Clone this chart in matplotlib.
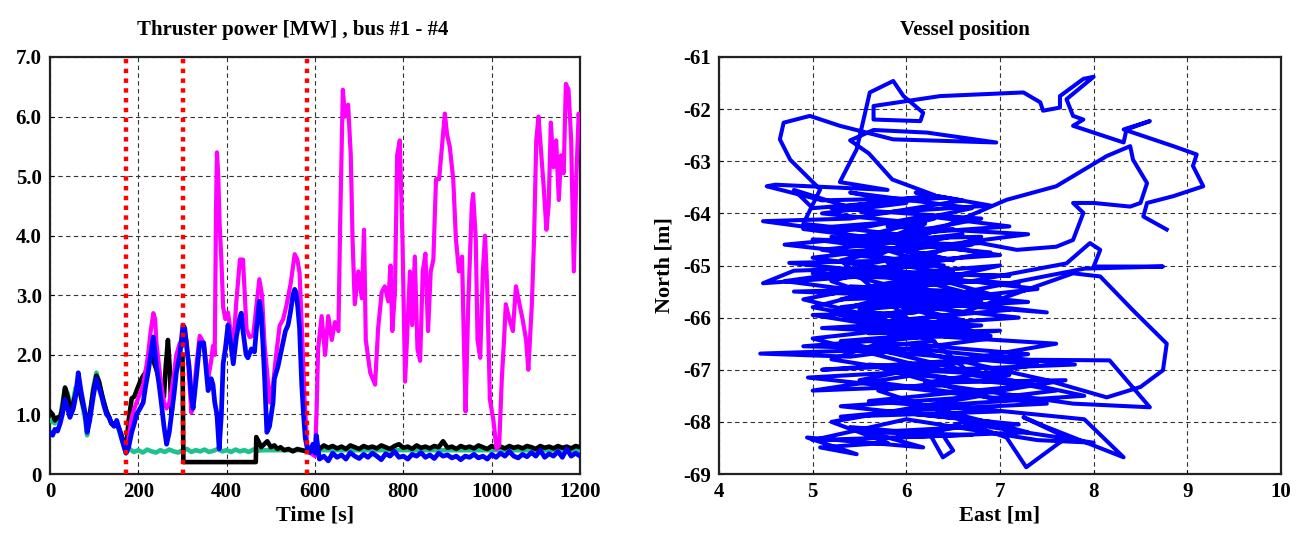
import matplotlib
matplotlib.use("Agg")
import matplotlib.pyplot as plt

plt.rcParams['font.family'] = ['Liberation Serif', 'DejaVu Serif']
plt.rcParams['font.weight'] = 'bold'
plt.rcParams['axes.unicode_minus'] = False

# ---------------- Thruster power data (time [s], power [MW]) ----------------
blue_t = [0, 6, 11, 17, 23, 28, 34, 40, 45, 53, 58, 64, 70, 75, 80, 84, 90, 98, 105, 111,
          117, 122, 128, 134, 139, 145, 151, 157, 162, 168, 172, 178, 185, 191, 196, 204, 211, 216, 222, 228,
          234, 241, 247, 252, 258, 264, 270, 275, 281, 286, 294, 301, 305, 310, 315, 320, 324, 331, 339, 348,
          358, 365, 369, 373, 378, 383, 388, 392, 397, 403, 409, 415, 422, 429, 433, 437, 444, 448, 456, 463,
          467, 474, 478, 482, 486, 491, 497, 505, 508, 516, 523, 527, 533, 539, 544, 550, 554, 557, 561, 565,
          570, 574, 578, 582, 588, 595, 600, 603, 610, 620, 630, 640, 650, 660, 670, 680, 690, 700, 710, 720,
          730, 740, 750, 760, 770, 780, 790, 800, 810, 820, 830, 840, 850, 860, 870, 880, 890, 900, 910, 920,
          930, 940, 950, 960, 970, 980, 990, 1000, 1010, 1020, 1030, 1040, 1050, 1060, 1070, 1080, 1090, 1100, 1110, 1120,
          1130, 1140, 1150, 1160, 1170, 1180, 1190, 1200]
blue_p = [0.70, 0.65, 0.75, 0.72, 0.85, 1.0, 1.25, 1.1, 0.95, 1.1, 1.3, 1.7, 1.4, 1.2, 1.0, 0.7, 0.9, 1.3, 1.6, 1.45,
          1.3, 1.15, 1.0, 0.95, 0.85, 0.8, 0.9, 0.75, 0.6, 0.45, 0.35, 0.45, 0.7, 0.85, 1.0, 1.1, 1.2, 1.45, 1.7, 2.0,
          2.3, 1.8, 1.5, 1.2, 0.8, 0.5, 0.7, 1.0, 1.35, 1.7, 2.0, 2.5, 2.45, 2.1, 1.8, 1.3, 1.1, 1.6, 2.2, 2.2,
          1.4, 1.6, 1.5, 1.2, 1.0, 0.42, 1.0, 1.85, 2.1, 2.5, 2.2, 1.85, 2.3, 2.6, 2.7, 2.4, 2.0, 1.95, 2.1, 2.05,
          2.4, 2.9, 2.7, 2.2, 1.6, 0.7, 0.8, 1.2, 1.6, 1.8, 2.05, 2.2, 2.4, 2.5, 2.7, 3.0, 3.1, 3.05, 2.8, 2.45,
          1.5, 1.0, 0.6, 0.45, 0.36, 0.5, 0.35, 0.65, 0.25, 0.3, 0.22, 0.35, 0.28, 0.32, 0.25, 0.36, 0.3, 0.26, 0.33, 0.28,
          0.35, 0.3, 0.24, 0.34, 0.3, 0.38, 0.28, 0.3, 0.25, 0.33, 0.3, 0.36, 0.28, 0.32, 0.26, 0.35, 0.3, 0.32, 0.27, 0.3,
          0.24, 0.3, 0.28, 0.33, 0.27, 0.3, 0.25, 0.33, 0.28, 0.35, 0.3, 0.38, 0.3, 0.27, 0.33, 0.29, 0.36, 0.3, 0.4, 0.28,
          0.34, 0.3, 0.38, 0.28, 0.42, 0.3, 0.35, 0.3]

black_t = [0, 6, 11, 17, 23, 28, 34, 40, 45, 53, 58, 64, 70, 75, 80, 84, 90, 98, 105, 111,
           117, 122, 128, 134, 139, 145, 151, 157, 162, 168, 172, 178, 185, 191, 196, 204, 211, 216, 222, 228,
           234, 241, 247, 252, 258, 262, 267, 271, 275, 281, 286, 294, 300, 302, 350, 400, 466, 467, 472, 478,
           485, 492, 500, 508, 515, 522, 530, 540, 550, 560, 570, 580, 590, 600, 610, 620, 630, 640, 650, 660,
           670, 680, 690, 700, 710, 720, 730, 740, 750, 760, 770, 780, 790, 800, 810, 820, 830, 840, 850, 860,
           870, 880, 890, 900, 910, 920, 930, 940, 950, 960, 970, 980, 990, 1000, 1010, 1020, 1030, 1040, 1050, 1060,
           1070, 1080, 1090, 1100, 1110, 1120, 1130, 1140, 1150, 1160, 1170, 1180, 1190, 1200]
black_p = [1.05, 1.0, 0.9, 0.95, 0.95, 1.1, 1.45, 1.3, 1.1, 1.2, 1.35, 1.5, 1.3, 1.15, 1.0, 0.8, 1.0, 1.4, 1.65, 1.55,
           1.35, 1.2, 1.05, 0.95, 0.85, 0.85, 0.85, 0.75, 0.65, 0.5, 0.4, 0.9, 1.27, 1.3, 1.4, 1.55, 1.65, 1.7, 1.85, 2.0,
           1.9, 1.75, 1.6, 1.4, 1.3, 1.8, 2.25, 1.8, 1.0, 1.5, 1.9, 1.9, 2.0, 0.2, 0.2, 0.2, 0.2, 0.62, 0.55, 0.45,
           0.5, 0.55, 0.45, 0.48, 0.42, 0.45, 0.4, 0.42, 0.38, 0.42, 0.4, 0.38, 0.42, 0.45, 0.42, 0.48, 0.44, 0.47, 0.43, 0.46,
           0.42, 0.48, 0.45, 0.42, 0.47, 0.44, 0.46, 0.43, 0.48, 0.45, 0.42, 0.47, 0.5, 0.44, 0.46, 0.42, 0.48, 0.44, 0.46, 0.43,
           0.47, 0.45, 0.55, 0.44, 0.46, 0.42, 0.47, 0.44, 0.46, 0.43, 0.48, 0.45, 0.42, 0.47, 0.44, 0.46, 0.43, 0.47, 0.44, 0.46,
           0.43, 0.47, 0.45, 0.42, 0.47, 0.44, 0.46, 0.43, 0.47, 0.44, 0.46, 0.43, 0.47, 0.45]

green_t = [0, 11, 23, 34, 40, 45, 53, 58, 64, 70, 75, 80, 84, 90, 98, 105, 111, 117, 128, 139,
           151, 162, 172, 180, 190, 200, 210, 220, 230, 240, 250, 260, 270, 280, 290, 300, 310, 320, 330, 340,
           350, 360, 370, 380, 390, 400, 410, 420, 430, 440, 450, 460, 470, 480, 500, 550, 600, 800, 1000, 1200]
green_p = [0.9, 0.85, 0.95, 1.45, 1.35, 1.15, 1.25, 1.45, 1.5, 1.3, 1.1, 0.9, 0.65, 0.95, 1.45, 1.7, 1.55, 1.35, 1.05, 0.85,
           0.85, 0.6, 0.35, 0.42, 0.37, 0.4, 0.36, 0.41, 0.38, 0.36, 0.4, 0.37, 0.41, 0.38, 0.36, 0.4, 0.42, 0.37, 0.4, 0.38,
           0.41, 0.37, 0.39, 0.42, 0.38, 0.4, 0.37, 0.41, 0.38, 0.4, 0.37, 0.41, 0.39, 0.4, 0.4, 0.4, 0.4, 0.4, 0.4, 0.4]

magenta_t = [172, 178, 185, 191, 196, 204, 211, 216, 222, 228, 234, 238, 241, 247, 252, 258, 264, 270, 275, 281,
             286, 294, 301, 305, 310, 315, 320, 324, 331, 339, 348, 358, 365, 369, 373, 376, 378, 381, 384, 388,
             392, 397, 403, 409, 415, 422, 430, 437, 441, 445, 452, 460, 467, 474, 480, 486, 493, 498, 505, 512,
             520, 528, 535, 545, 554, 560, 565, 570, 576, 582, 590, 600, 604, 607, 615, 623, 630, 638, 645, 653,
             657, 663, 668, 675, 681, 685, 690, 698, 706, 711, 715, 725, 736, 743, 751, 758, 766, 771, 775, 781,
             786, 792, 798, 804, 810, 815, 820, 826, 832, 838, 844, 850, 856, 862, 868, 874, 881, 887, 894, 899,
             905, 913, 919, 926, 933, 937, 941, 947, 955, 958, 964, 968, 974, 980, 985, 990, 996, 1004, 1011, 1017,
             1023, 1028, 1032, 1040, 1048, 1055, 1063, 1070, 1078, 1083, 1091, 1096, 1101, 1106, 1112, 1118, 1124, 1129, 1134, 1140,
             1146, 1152, 1157, 1163, 1168, 1174, 1180, 1186, 1192, 1197, 1200]
magenta_p = [0.4, 0.6, 0.95, 1.1, 1.2, 1.35, 1.5, 1.7, 2.0, 2.4, 2.7, 2.6, 2.2, 1.8, 1.5, 1.2, 1.1, 1.2, 1.4, 1.7,
             2.0, 2.2, 2.15, 2.4, 2.2, 1.6, 1.03, 1.2, 1.8, 2.32, 2.2, 1.6, 1.9, 2.15, 2.0, 4.5, 5.4, 5.0, 4.2, 3.6,
             2.8, 2.6, 2.71, 2.4, 2.15, 2.9, 3.6, 3.6, 3.0, 2.43, 2.3, 2.32, 2.8, 3.27, 3.0, 2.15, 1.6, 1.2, 1.5, 2.0,
             2.49, 2.6, 2.82, 3.2, 3.69, 3.6, 3.38, 2.5, 1.32, 0.5, 0.35, 0.3, 1.15, 2.1, 2.65, 2.0, 2.65, 2.25, 2.55, 2.4,
             4.2, 6.45, 6.0, 6.2, 5.35, 3.95, 2.85, 3.4, 2.95, 4.1, 2.25, 1.7, 1.5, 2.45, 3.05, 3.15, 2.9, 3.5, 2.4, 3.05,
             5.35, 5.6, 3.95, 1.55, 2.55, 3.4, 2.5, 3.65, 2.1, 1.9, 3.4, 3.7, 2.4, 3.4, 3.6, 4.95, 4.95, 5.45, 6.05, 5.7,
             5.5, 4.95, 3.95, 3.4, 3.65, 2.25, 1.05, 2.85, 4.5, 4.7, 3.95, 2.25, 1.95, 3.4, 4.0, 3.1, 1.25, 0.9, 0.42, 0.48,
             1.6, 2.25, 2.85, 2.6, 2.4, 3.15, 2.85, 2.6, 2.25, 1.75, 2.85, 3.95, 5.6, 6.0, 5.4, 4.8, 4.1, 4.5, 5.9, 5.15,
             5.6, 4.6, 5.35, 5.05, 6.55, 6.45, 5.6, 3.4, 5.05, 6.05, 5.75]

event_times = [173, 302, 581]

power_xticks = [0, 200, 400, 600, 800, 1000, 1200]
power_yticks = [0, 1, 2, 3, 4, 5, 6, 7]
power_ylabels = ['0', '1.0', '2.0', '3.0', '4.0', '5.0', '6.0', '7.0']

# ---------------- Vessel position data (East [m], North [m]) ----------------
east_m = [8.78, 8.53, 8.57, 8.85, 9.17, 9.06, 9.10, 8.85, 8.32, 8.60,
          8.35, 8.32, 8.00, 7.78, 7.89, 7.78, 7.71, 8.00, 7.89, 7.64,
          7.64, 7.46, 7.43, 7.25, 6.36, 5.65, 5.65, 6.15, 6.18, 5.97,
          5.86, 5.61, 5.47, 5.29, 5.80, 4.60, 4.51, 5.10, 6.40, 5.00,
          4.80, 5.60, 6.90, 6.10, 6.60, 5.40, 4.47, 5.30, 6.20, 7.10,
          5.90, 4.90, 5.08, 4.76, 4.65, 4.69, 4.97, 5.29, 5.86, 6.96,
          6.22, 5.65, 5.40, 5.60, 5.85, 6.30, 5.20, 6.80, 5.50, 6.50,
          4.70, 5.70, 7.07, 7.60, 8.14, 8.39, 8.42, 8.57, 8.50, 8.39,
          8.00, 7.78, 7.89, 7.78, 7.60, 7.18, 6.79, 5.20, 6.40, 4.80,
          4.47, 5.60, 7.00, 6.00, 5.10, 6.70, 7.71, 7.96, 8.07, 8.00,
          8.74, 7.90, 6.50, 5.30, 6.80, 5.70, 4.90, 6.20, 7.40, 5.90,
          7.20, 5.50, 6.60, 7.78, 8.07, 8.42, 8.78, 8.74, 8.50, 8.14,
          7.50, 6.00, 4.44, 5.40, 6.90, 5.80, 7.60, 6.30, 5.10, 6.70,
          8.17, 8.60, 7.78, 6.40, 5.00, 6.10, 7.30, 5.60, 7.00, 5.30,
          6.50, 7.90, 8.32, 7.50, 7.25, 7.71, 7.28, 7.07, 6.60, 6.36,
          6.50, 6.39, 6.25, 5.40, 6.18, 4.94, 5.47, 5.08, 5.80, 5.20,
          6.80, 5.50, 6.20, 5.00, 6.50, 5.20, 6.30, 5.00, 6.70, 5.50,
          6.60, 5.40, 6.10, 5.00, 6.40, 5.60, 7.30, 6.00, 7.10, 5.60,
          6.90, 7.60, 6.70, 5.30, 6.60, 5.10, 6.00, 4.75, 5.80, 7.10,
          5.20, 6.30, 4.80, 5.90, 7.30, 6.20, 5.40, 6.80, 5.60, 7.00,
          4.90, 6.10, 7.80, 6.40, 4.95, 6.00, 7.50, 5.80, 7.20, 5.60,
          6.70, 5.00, 6.00, 7.40, 8.00, 6.90, 5.70, 6.60, 5.20, 6.20,
          5.00, 6.50, 5.60, 6.20, 5.10, 6.00, 5.40, 6.70, 5.80, 7.30,
          6.00, 6.50, 5.20, 6.90, 5.40, 7.20, 5.00, 6.40, 5.30, 6.80,
          5.50, 7.50, 5.70, 6.60, 5.10, 6.90, 5.60, 7.10, 6.00, 4.70,
          5.90, 6.80, 5.40, 6.30, 4.90, 6.00, 7.00, 5.80, 6.60, 5.20,
          6.30, 5.40, 7.40, 6.20, 7.70, 6.50, 5.30, 6.90, 5.90, 7.30,
          6.20, 7.90, 6.60, 5.30, 6.70, 5.50, 7.00, 6.10, 5.00, 6.20]
north_m = [-64.31, -64.06, -63.80, -63.67, -63.48, -63.09, -62.87, -62.71, -62.39, -62.23,
           -62.39, -62.64, -62.45, -62.32, -62.20, -62.13, -61.81, -61.38, -61.42, -61.75,
           -61.97, -62.03, -61.87, -61.68, -61.75, -61.94, -62.20, -62.23, -62.07, -61.75,
           -61.46, -61.68, -62.77, -63.40, -63.55, -63.45, -63.48, -63.75, -63.70, -63.90,
           -63.55, -64.00, -63.85, -63.60, -63.75, -64.10, -64.15, -64.35, -64.05, -64.25,
           -64.40, -64.20, -63.54, -62.97, -62.58, -62.26, -62.13, -62.32, -62.58, -62.64,
           -62.45, -62.40, -62.60, -62.85, -63.35, -63.65, -63.90, -64.10, -64.55, -64.30,
           -64.60, -64.80, -63.74, -63.48, -62.90, -62.71, -62.97, -63.42, -63.80, -63.87,
           -63.80, -63.80, -63.99, -64.51, -64.64, -64.70, -64.57, -64.75, -65.00, -65.10,
           -65.34, -65.20, -65.00, -65.40, -65.55, -65.30, -64.96, -64.57, -64.70, -65.02,
           -65.02, -65.06, -65.55, -65.80, -65.70, -66.00, -65.65, -65.20, -65.45, -65.75,
           -66.00, -66.20, -65.90, -65.15, -65.21, -65.86, -66.50, -67.01, -67.33, -67.53,
           -67.20, -66.60, -66.69, -66.75, -66.40, -66.30, -66.50, -66.90, -67.00, -66.80,
           -66.82, -67.72, -67.65, -67.30, -67.40, -67.10, -67.30, -67.60, -67.80, -67.90,
           -67.70, -67.95, -68.68, -68.10, -67.91, -68.30, -68.87, -68.30, -68.00, -68.17,
           -68.55, -68.68, -68.23, -68.10, -68.49, -68.30, -68.62, -68.49, -68.40, -68.00,
           -67.50, -67.20, -66.95, -66.40, -66.10, -65.30, -64.80, -64.50, -64.60, -65.00,
           -65.50, -65.40, -65.90, -65.95, -66.35, -66.45, -66.70, -67.00, -67.10, -66.90,
           -67.55, -67.40, -67.10, -64.90, -64.40, -64.70, -64.90, -64.95, -65.15, -65.20,
           -65.10, -65.60, -65.50, -65.45, -65.70, -65.80, -66.05, -66.15, -66.30, -66.25,
           -66.55, -66.60, -66.90, -67.00, -67.15, -67.35, -67.65, -67.80, -68.05, -68.20,
           -68.25, -68.35, -67.95, -68.35, -68.40, -68.10, -67.40, -67.20, -66.80, -66.20,
           -65.80, -65.10, -64.60, -64.20, -64.00, -63.80, -63.60, -63.90, -64.25, -64.40,
           -64.70, -64.90, -64.45, -64.75, -65.20, -65.35, -65.15, -65.25, -65.65, -65.55,
           -65.50, -65.90, -65.65, -66.05, -66.20, -66.35, -66.10, -65.85, -65.60, -65.30,
           -65.00, -64.45, -64.50, -64.10, -64.30, -64.55, -64.80, -64.95, -65.20, -65.90,
           -66.45, -66.60, -66.90, -67.25, -67.20, -67.55, -67.70, -68.00, -68.30, -68.20,
           -67.70, -67.50, -67.00, -66.45, -66.25, -65.85, -65.60, -65.15, -64.85, -64.60]

pos_xticks = [4, 5, 6, 7, 8, 9, 10]
pos_yticks = [-69, -68, -67, -66, -65, -64, -63, -62, -61]

# ---------------- Figure ----------------
W, H = 1301, 542
fig = plt.figure(figsize=(W / 100, H / 100), dpi=100)
fig.patch.set_facecolor('white')

ax1 = fig.add_axes([50 / W, (H - 474) / H, 530 / W, 417 / H])
ax2 = fig.add_axes([719 / W, (H - 474) / H, 562 / W, 417 / H])

grid_kw = dict(color='#333333', linestyle=(0, (4, 3)), linewidth=0.8)
tick_fs = 15
lab_fs = 16

# Left panel
ax1.plot(green_t, green_p, color='#1fc28f', lw=3.3, zorder=3)
ax1.plot(black_t, black_p, color='black', lw=3.3, zorder=4)
ax1.plot(magenta_t, magenta_p, color='#ff00ff', lw=3.0, zorder=5)
ax1.plot(blue_t, blue_p, color='#0000ff', lw=3.4, zorder=6)
for tv in event_times:
    ax1.axvline(tv, color='#ff0000', lw=3.2, linestyle=(0, (1, 1.2)), zorder=7)
ax1.set_xlim(0, 1200)
ax1.set_ylim(0, 7)
ax1.set_xticks(power_xticks)
ax1.set_yticks(power_yticks)
ax1.set_yticklabels(power_ylabels)
ax1.grid(True, **grid_kw)
ax1.set_axisbelow(True)
ax1.set_title('Thruster power [MW] , bus #1 - #4', fontsize=15, fontweight='bold', pad=16, x=0.457)
ax1.set_xlabel('Time [s]', fontsize=lab_fs, fontweight='bold', labelpad=2)

# Right panel
ax2.plot(east_m, north_m, color='#0000ff', lw=2.9, zorder=3)
ax2.set_xlim(4, 10)
ax2.set_ylim(-69, -61)
ax2.set_xticks(pos_xticks)
ax2.set_yticks(pos_yticks)
ax2.grid(True, **grid_kw)
ax2.set_axisbelow(True)
ax2.set_title('Vessel position', fontsize=15, fontweight='bold', pad=16, x=0.438)
ax2.set_xlabel('East [m]', fontsize=lab_fs, fontweight='bold', labelpad=2)
ax2.set_ylabel('North [m]', fontsize=lab_fs, fontweight='bold', labelpad=6)

for ax in (ax1, ax2):
    ax.tick_params(direction='in', length=3, width=0.8, labelsize=tick_fs, pad=6)
    for lbl in ax.get_xticklabels() + ax.get_yticklabels():
        lbl.set_fontweight('bold')
    for sp in ax.spines.values():
        sp.set_linewidth(1.6)
        sp.set_color('#222222')

fig.savefig('out.png', dpi=100, facecolor='white')
